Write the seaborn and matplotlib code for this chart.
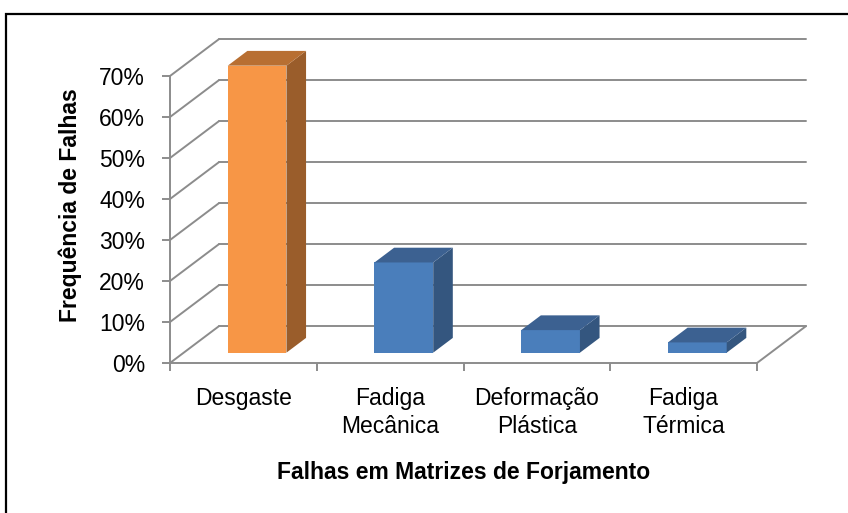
import matplotlib
matplotlib.use('Agg')
import matplotlib.pyplot as plt
import matplotlib.transforms as mtransforms
from matplotlib.patches import Polygon, Rectangle
import pandas as pd
import seaborn as sns

# Data
categorias = ['Desgaste', 'Fadiga\nMecânica', 'Deformação\nPlástica', 'Fadiga\nTérmica']
frequencias = [70, 22, 5.5, 2.5]
niveis_y = [0, 10, 20, 30, 40, 50, 60, 70]
rotulos_y = ['0%', '10%', '20%', '30%', '40%', '50%', '60%', '70%']

cor_frente = ['#F79646', '#4A7EBB', '#4A7EBB', '#4A7EBB']
cor_lado = ['#9A5D2B', '#34567F', '#34567F', '#34567F']
cor_topo = ['#B86F32', '#3C6191', '#3C6191', '#3C6191']

sns.set_style('white')
plt.rcParams['font.family'] = ['Liberation Sans', 'DejaVu Sans']
plt.rcParams['text.color'] = 'black'
plt.rcParams['axes.labelcolor'] = 'black'
plt.rcParams['xtick.labelcolor'] = 'black'
plt.rcParams['ytick.labelcolor'] = 'black'

df = pd.DataFrame({'falha': categorias, 'freq': frequencias})

fig = plt.figure(figsize=(8.48, 5.13), dpi=100)
ax = fig.add_axes([170 / 848, 150 / 513, 587 / 848, 328 / 513])

# depth vector of the 3-D box (category units, percent units)
DX, DY = 0.334, 9.0
grid_c = '#8C8C8C'

# back wall + side wall grid
for v in niveis_y:
    ax.plot([-0.5 + DX, 3.5 + DX], [v + DY, v + DY], color=grid_c, lw=1.4, clip_on=False, zorder=1)
    ax.plot([-0.5, -0.5 + DX], [v, v + DY], color=grid_c, lw=1.4, clip_on=False, zorder=1)
# floor
ax.plot([3.5, 3.5 + DX], [0, DY], color=grid_c, lw=1.4, clip_on=False, zorder=1)

sns.barplot(data=df, x='falha', y='freq', hue='falha', palette=cor_frente,
            width=0.4, saturation=1, legend=False, ax=ax, zorder=3)

# bars sit partway into the depth
f0, f1 = 0.28, 0.68
shift = mtransforms.Affine2D().translate(DX * f0, DY * f0) + ax.transData
bx, by = DX * (f1 - f0), DY * (f1 - f0)
for i, p in enumerate(ax.patches):
    x0, w, h = p.get_x(), p.get_width(), p.get_height()
    p.set_transform(shift)
    p.set_edgecolor('none')
    p.set_clip_on(False)
    side = Polygon([(x0 + w, 0), (x0 + w + bx, by), (x0 + w + bx, h + by), (x0 + w, h)],
                   closed=True, facecolor=cor_lado[i], edgecolor='none', transform=shift,
                   clip_on=False, zorder=3)
    top = Polygon([(x0, h), (x0 + w, h), (x0 + w + bx, h + by), (x0 + bx, h + by)],
                  closed=True, facecolor=cor_topo[i], edgecolor='none', transform=shift,
                  clip_on=False, zorder=3)
    ax.add_patch(side)
    ax.add_patch(top)

ax.set_xlim(-0.5, 3.5)
ax.set_ylim(0, 80)

for s in ['top', 'right']:
    ax.spines[s].set_visible(False)
for s in ['left', 'bottom']:
    ax.spines[s].set_color(grid_c)
    ax.spines[s].set_linewidth(1.4)
ax.spines['left'].set_bounds(0, 70)

ax.set_yticks(niveis_y)
ax.set_yticklabels(rotulos_y)
ax.set_xticks(range(len(categorias)))
ax.set_xticklabels(categorias, linespacing=1.3)
ax.set_xticks([-0.5, 0.5, 1.5, 2.5, 3.5], minor=True)
ax.tick_params(axis='y', length=6, width=1.4, color=grid_c, pad=12, labelsize=16.5,
               direction='out', left=True)
ax.tick_params(axis='x', which='major', length=0, pad=17, labelsize=16.5)
ax.tick_params(axis='x', which='minor', length=6, width=1.4, color=grid_c, direction='out', bottom=True)

ax.set_ylabel('Frequência de Falhas', fontsize=16.5, fontweight='bold')
ax.yaxis.set_label_coords(-0.15, 0.48)
ax.set_xlabel('Falhas em Matrizes de Forjamento', fontsize=16.5, fontweight='bold')
ax.xaxis.label.set_va('center')
ax.xaxis.set_label_coords(0.5, -0.335)

# outer frame
fig.add_artist(Rectangle((6 / 848, -0.1), 1.2, 1.1 - 14 / 513, transform=fig.transFigure,
                         fill=False, edgecolor='black', lw=1.6))

fig.savefig('out.png', dpi=100)
